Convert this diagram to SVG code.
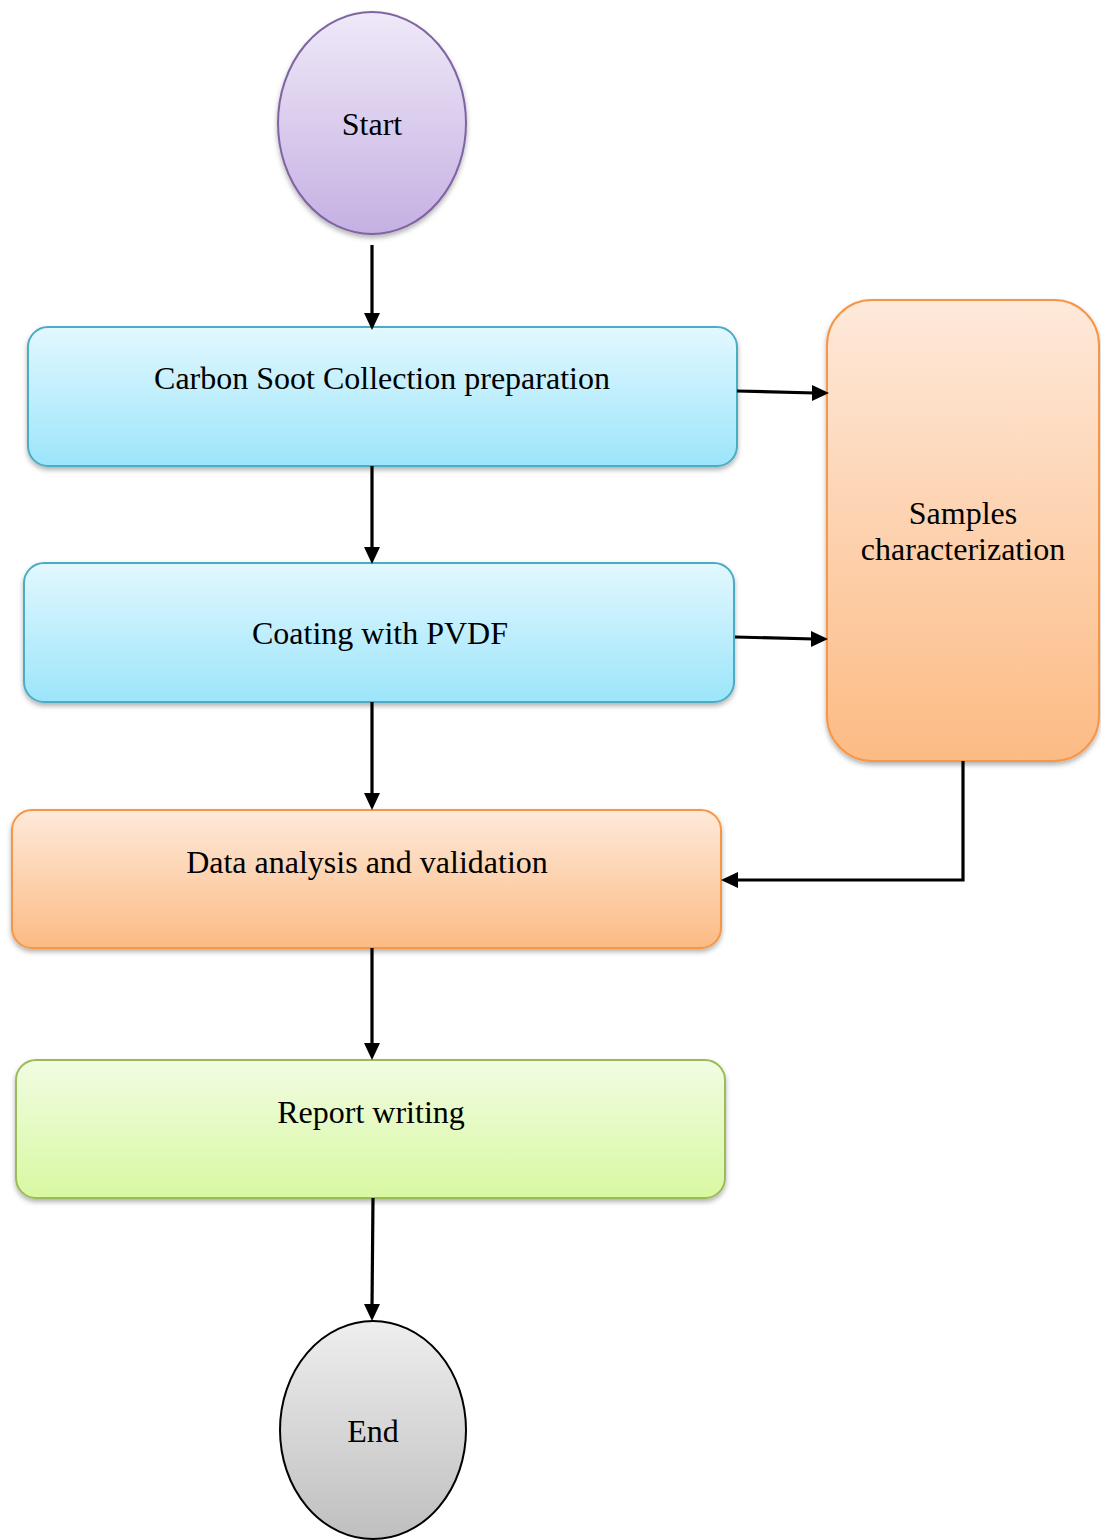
<svg xmlns="http://www.w3.org/2000/svg" xmlns:xlink="http://www.w3.org/1999/xlink" width="1101" height="1540" viewBox="0 0 1101 1540">
<defs>
<linearGradient id="gPurple" x1="0" y1="0" x2="0" y2="1"><stop offset="0" stop-color="#efe9f8"/><stop offset="1" stop-color="#c5b0e3"/></linearGradient>
<linearGradient id="gBlue" x1="0" y1="0" x2="0" y2="1"><stop offset="0" stop-color="#e2f8ff"/><stop offset="1" stop-color="#9ce5fa"/></linearGradient>
<linearGradient id="gOrange" x1="0" y1="0" x2="0" y2="1"><stop offset="0" stop-color="#fee9da"/><stop offset="1" stop-color="#fcbb84"/></linearGradient>
<linearGradient id="gGreen" x1="0" y1="0" x2="0" y2="1"><stop offset="0" stop-color="#f1fce2"/><stop offset="1" stop-color="#d8f8a1"/></linearGradient>
<linearGradient id="gGray" x1="0" y1="0" x2="0" y2="1"><stop offset="0" stop-color="#eeeeee"/><stop offset="1" stop-color="#bfbfbf"/></linearGradient>
<filter id="sh" x="-10%" y="-10%" width="120%" height="130%"><feDropShadow dx="0" dy="3" stdDeviation="2.5" flood-color="#000" flood-opacity="0.3"/></filter>
<path id="ah" d="M0,0 L-17,-8 L-17,8 z" fill="#000"/>
</defs>
<style>
text{font-family:"Liberation Serif","Times New Roman",serif;font-size:32px;fill:#000;text-anchor:middle}
.conn{stroke:#000;stroke-width:3.2;fill:none}
</style>
<g id="start">
<ellipse cx="372" cy="123" rx="94" ry="111" fill="url(#gPurple)" stroke="#8064a2" stroke-width="2" filter="url(#sh)"/>
<text x="372" y="135">Start</text>
</g>
<g id="carbon">
<rect x="28" y="327" width="709" height="139" rx="20" fill="url(#gBlue)" stroke="#4bacc6" stroke-width="2" filter="url(#sh)"/>
<text x="382" y="389">Carbon Soot Collection preparation</text>
</g>
<g id="coating">
<rect x="24" y="563" width="710" height="139" rx="20" fill="url(#gBlue)" stroke="#4bacc6" stroke-width="2" filter="url(#sh)"/>
<text x="380" y="644">Coating with PVDF</text>
</g>
<g id="samples">
<rect x="827" y="300" width="272" height="461" rx="45" fill="url(#gOrange)" stroke="#f79646" stroke-width="2" filter="url(#sh)"/>
<text x="963" y="524">Samples</text>
<text x="963" y="560">characterization</text>
</g>
<g id="analysis">
<rect x="12" y="810" width="709" height="138" rx="20" fill="url(#gOrange)" stroke="#f79646" stroke-width="2" filter="url(#sh)"/>
<text x="367" y="873">Data analysis and validation</text>
</g>
<g id="report">
<rect x="16" y="1060" width="709" height="138" rx="20" fill="url(#gGreen)" stroke="#9bbb59" stroke-width="2" filter="url(#sh)"/>
<text x="371" y="1123">Report writing</text>
</g>
<g id="end">
<ellipse cx="373" cy="1430" rx="93" ry="109" fill="url(#gGray)" stroke="#000" stroke-width="2"/>
<text x="373" y="1442">End</text>
</g>
<g id="connectors">
<line class="conn" x1="372" y1="245" x2="372" y2="316"/>
<use href="#ah" xlink:href="#ah" transform="translate(372,330) rotate(90)"/>
<line class="conn" x1="372" y1="466" x2="372" y2="550"/>
<use href="#ah" xlink:href="#ah" transform="translate(372,564) rotate(90)"/>
<line class="conn" x1="372" y1="702" x2="372" y2="796"/>
<use href="#ah" xlink:href="#ah" transform="translate(372,810) rotate(90)"/>
<line class="conn" x1="372" y1="948" x2="372" y2="1046"/>
<use href="#ah" xlink:href="#ah" transform="translate(372,1060) rotate(90)"/>
<line class="conn" x1="373" y1="1198" x2="372" y2="1307"/>
<use href="#ah" xlink:href="#ah" transform="translate(372,1321) rotate(90)"/>
<line class="conn" x1="737" y1="391" x2="815" y2="393"/>
<use href="#ah" xlink:href="#ah" transform="translate(829,393)"/>
<line class="conn" x1="735" y1="637" x2="814" y2="639"/>
<use href="#ah" xlink:href="#ah" transform="translate(828,639)"/>
<polyline class="conn" points="963,761 963,880 734,880"/>
<use href="#ah" xlink:href="#ah" transform="translate(721,880) rotate(180)"/>
</g>
</svg>
